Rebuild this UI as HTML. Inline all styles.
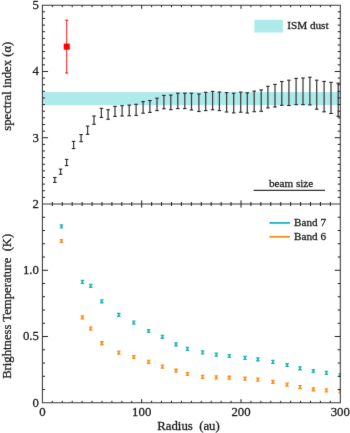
<!DOCTYPE html>
<html><head><meta charset="utf-8"><style>
html,body{margin:0;padding:0;background:#fff;width:350px;height:433px;overflow:hidden}
svg{display:block;will-change:transform;}
text{stroke:#1a1a1a;stroke-width:0.28px;font-family:"Liberation Serif",serif}
</style></head><body>
<svg width="350" height="433" viewBox="0 0 350 433">
<defs><filter id="bl" filterUnits="userSpaceOnUse" x="-5" y="-5" width="360" height="443" color-interpolation-filters="sRGB"><feConvolveMatrix order="3" kernelMatrix="0.00524 0.06192 0.00524 0.06192 0.73137 0.06192 0.00524 0.06192 0.00524" preserveAlpha="true" edgeMode="duplicate"/></filter></defs>
<g filter="url(#bl)">
<rect x="-10" y="-10" width="370" height="453" fill="#fff"/>
<rect x="42.4" y="92.1" width="297.90000000000003" height="13.1" fill="#aeeaea"/>
<rect x="254.4" y="19.7" width="28.5" height="12.8" fill="#aeeaea"/>
<line x1="54.8" y1="177.5" x2="54.8" y2="182.4" stroke="#3a3a3a" stroke-width="1.25"/>
<line x1="53.05" y1="177.5" x2="56.55" y2="177.5" stroke="#222" stroke-width="1.1"/>
<line x1="53.05" y1="182.4" x2="56.55" y2="182.4" stroke="#222" stroke-width="1.1"/>
<line x1="60.6" y1="169.1" x2="60.6" y2="174.3" stroke="#3a3a3a" stroke-width="1.25"/>
<line x1="58.85" y1="169.1" x2="62.35" y2="169.1" stroke="#222" stroke-width="1.1"/>
<line x1="58.85" y1="174.3" x2="62.35" y2="174.3" stroke="#222" stroke-width="1.1"/>
<line x1="66.6" y1="159.4" x2="66.6" y2="165.6" stroke="#3a3a3a" stroke-width="1.25"/>
<line x1="64.85" y1="159.4" x2="68.35" y2="159.4" stroke="#222" stroke-width="1.1"/>
<line x1="64.85" y1="165.6" x2="68.35" y2="165.6" stroke="#222" stroke-width="1.1"/>
<line x1="73.6" y1="141.4" x2="73.6" y2="148.6" stroke="#3a3a3a" stroke-width="1.25"/>
<line x1="71.85" y1="141.4" x2="75.35" y2="141.4" stroke="#222" stroke-width="1.1"/>
<line x1="71.85" y1="148.6" x2="75.35" y2="148.6" stroke="#222" stroke-width="1.1"/>
<line x1="81.1" y1="134.6" x2="81.1" y2="141.7" stroke="#3a3a3a" stroke-width="1.25"/>
<line x1="79.35" y1="134.6" x2="82.85" y2="134.6" stroke="#222" stroke-width="1.1"/>
<line x1="79.35" y1="141.7" x2="82.85" y2="141.7" stroke="#222" stroke-width="1.1"/>
<line x1="87.6" y1="126.1" x2="87.6" y2="134.3" stroke="#3a3a3a" stroke-width="1.25"/>
<line x1="85.85" y1="126.1" x2="89.35" y2="126.1" stroke="#222" stroke-width="1.1"/>
<line x1="85.85" y1="134.3" x2="89.35" y2="134.3" stroke="#222" stroke-width="1.1"/>
<line x1="94" y1="116" x2="94" y2="124.3" stroke="#3a3a3a" stroke-width="1.25"/>
<line x1="92.25" y1="116" x2="95.75" y2="116" stroke="#222" stroke-width="1.1"/>
<line x1="92.25" y1="124.3" x2="95.75" y2="124.3" stroke="#222" stroke-width="1.1"/>
<line x1="101.4" y1="108.3" x2="101.4" y2="117.4" stroke="#3a3a3a" stroke-width="1.25"/>
<line x1="99.65" y1="108.3" x2="103.15" y2="108.3" stroke="#222" stroke-width="1.1"/>
<line x1="99.65" y1="117.4" x2="103.15" y2="117.4" stroke="#222" stroke-width="1.1"/>
<line x1="108.1" y1="109.7" x2="108.1" y2="119.3" stroke="#3a3a3a" stroke-width="1.25"/>
<line x1="106.35" y1="109.7" x2="109.85" y2="109.7" stroke="#222" stroke-width="1.1"/>
<line x1="106.35" y1="119.3" x2="109.85" y2="119.3" stroke="#222" stroke-width="1.1"/>
<line x1="115" y1="106.4" x2="115" y2="116.4" stroke="#3a3a3a" stroke-width="1.25"/>
<line x1="113.25" y1="106.4" x2="116.75" y2="106.4" stroke="#222" stroke-width="1.1"/>
<line x1="113.25" y1="116.4" x2="116.75" y2="116.4" stroke="#222" stroke-width="1.1"/>
<line x1="122.1" y1="105.7" x2="122.1" y2="116" stroke="#3a3a3a" stroke-width="1.25"/>
<line x1="120.35" y1="105.7" x2="123.85" y2="105.7" stroke="#222" stroke-width="1.1"/>
<line x1="120.35" y1="116" x2="123.85" y2="116" stroke="#222" stroke-width="1.1"/>
<line x1="129.2" y1="105.1" x2="129.2" y2="115.8" stroke="#3a3a3a" stroke-width="1.25"/>
<line x1="127.44999999999999" y1="105.1" x2="130.95" y2="105.1" stroke="#222" stroke-width="1.1"/>
<line x1="127.44999999999999" y1="115.8" x2="130.95" y2="115.8" stroke="#222" stroke-width="1.1"/>
<line x1="136.1" y1="104.3" x2="136.1" y2="115.4" stroke="#3a3a3a" stroke-width="1.25"/>
<line x1="134.35" y1="104.3" x2="137.85" y2="104.3" stroke="#222" stroke-width="1.1"/>
<line x1="134.35" y1="115.4" x2="137.85" y2="115.4" stroke="#222" stroke-width="1.1"/>
<line x1="143.1" y1="101.6" x2="143.1" y2="113.2" stroke="#3a3a3a" stroke-width="1.25"/>
<line x1="141.35" y1="101.6" x2="144.85" y2="101.6" stroke="#222" stroke-width="1.1"/>
<line x1="141.35" y1="113.2" x2="144.85" y2="113.2" stroke="#222" stroke-width="1.1"/>
<line x1="149.9" y1="100.6" x2="149.9" y2="112.4" stroke="#3a3a3a" stroke-width="1.25"/>
<line x1="148.15" y1="100.6" x2="151.65" y2="100.6" stroke="#222" stroke-width="1.1"/>
<line x1="148.15" y1="112.4" x2="151.65" y2="112.4" stroke="#222" stroke-width="1.1"/>
<line x1="157" y1="98.2" x2="157" y2="110.6" stroke="#3a3a3a" stroke-width="1.25"/>
<line x1="155.25" y1="98.2" x2="158.75" y2="98.2" stroke="#222" stroke-width="1.1"/>
<line x1="155.25" y1="110.6" x2="158.75" y2="110.6" stroke="#222" stroke-width="1.1"/>
<line x1="163.9" y1="95.4" x2="163.9" y2="108.8" stroke="#3a3a3a" stroke-width="1.25"/>
<line x1="162.15" y1="95.4" x2="165.65" y2="95.4" stroke="#222" stroke-width="1.1"/>
<line x1="162.15" y1="108.8" x2="165.65" y2="108.8" stroke="#222" stroke-width="1.1"/>
<line x1="170.8" y1="95.1" x2="170.8" y2="109.7" stroke="#3a3a3a" stroke-width="1.25"/>
<line x1="169.05" y1="95.1" x2="172.55" y2="95.1" stroke="#222" stroke-width="1.1"/>
<line x1="169.05" y1="109.7" x2="172.55" y2="109.7" stroke="#222" stroke-width="1.1"/>
<line x1="177.8" y1="93.2" x2="177.8" y2="108.6" stroke="#3a3a3a" stroke-width="1.25"/>
<line x1="176.05" y1="93.2" x2="179.55" y2="93.2" stroke="#222" stroke-width="1.1"/>
<line x1="176.05" y1="108.6" x2="179.55" y2="108.6" stroke="#222" stroke-width="1.1"/>
<line x1="184.8" y1="93.2" x2="184.8" y2="108.6" stroke="#3a3a3a" stroke-width="1.25"/>
<line x1="183.05" y1="93.2" x2="186.55" y2="93.2" stroke="#222" stroke-width="1.1"/>
<line x1="183.05" y1="108.6" x2="186.55" y2="108.6" stroke="#222" stroke-width="1.1"/>
<line x1="191.5" y1="93.2" x2="191.5" y2="110" stroke="#3a3a3a" stroke-width="1.25"/>
<line x1="189.75" y1="93.2" x2="193.25" y2="93.2" stroke="#222" stroke-width="1.1"/>
<line x1="189.75" y1="110" x2="193.25" y2="110" stroke="#222" stroke-width="1.1"/>
<line x1="198.9" y1="94" x2="198.9" y2="111.5" stroke="#3a3a3a" stroke-width="1.25"/>
<line x1="197.15" y1="94" x2="200.65" y2="94" stroke="#222" stroke-width="1.1"/>
<line x1="197.15" y1="111.5" x2="200.65" y2="111.5" stroke="#222" stroke-width="1.1"/>
<line x1="205.7" y1="92.3" x2="205.7" y2="110.6" stroke="#3a3a3a" stroke-width="1.25"/>
<line x1="203.95" y1="92.3" x2="207.45" y2="92.3" stroke="#222" stroke-width="1.1"/>
<line x1="203.95" y1="110.6" x2="207.45" y2="110.6" stroke="#222" stroke-width="1.1"/>
<line x1="212.6" y1="91.4" x2="212.6" y2="109.8" stroke="#3a3a3a" stroke-width="1.25"/>
<line x1="210.85" y1="91.4" x2="214.35" y2="91.4" stroke="#222" stroke-width="1.1"/>
<line x1="210.85" y1="109.8" x2="214.35" y2="109.8" stroke="#222" stroke-width="1.1"/>
<line x1="219.4" y1="92" x2="219.4" y2="110.6" stroke="#3a3a3a" stroke-width="1.25"/>
<line x1="217.65" y1="92" x2="221.15" y2="92" stroke="#222" stroke-width="1.1"/>
<line x1="217.65" y1="110.6" x2="221.15" y2="110.6" stroke="#222" stroke-width="1.1"/>
<line x1="226.6" y1="92.6" x2="226.6" y2="112" stroke="#3a3a3a" stroke-width="1.25"/>
<line x1="224.85" y1="92.6" x2="228.35" y2="92.6" stroke="#222" stroke-width="1.1"/>
<line x1="224.85" y1="112" x2="228.35" y2="112" stroke="#222" stroke-width="1.1"/>
<line x1="233.7" y1="93.2" x2="233.7" y2="112.9" stroke="#3a3a3a" stroke-width="1.25"/>
<line x1="231.95" y1="93.2" x2="235.45" y2="93.2" stroke="#222" stroke-width="1.1"/>
<line x1="231.95" y1="112.9" x2="235.45" y2="112.9" stroke="#222" stroke-width="1.1"/>
<line x1="240.7" y1="92.1" x2="240.7" y2="112.2" stroke="#3a3a3a" stroke-width="1.25"/>
<line x1="238.95" y1="92.1" x2="242.45" y2="92.1" stroke="#222" stroke-width="1.1"/>
<line x1="238.95" y1="112.2" x2="242.45" y2="112.2" stroke="#222" stroke-width="1.1"/>
<line x1="247.3" y1="92.8" x2="247.3" y2="113" stroke="#3a3a3a" stroke-width="1.25"/>
<line x1="245.55" y1="92.8" x2="249.05" y2="92.8" stroke="#222" stroke-width="1.1"/>
<line x1="245.55" y1="113" x2="249.05" y2="113" stroke="#222" stroke-width="1.1"/>
<line x1="254.2" y1="91.1" x2="254.2" y2="111.7" stroke="#3a3a3a" stroke-width="1.25"/>
<line x1="252.45" y1="91.1" x2="255.95" y2="91.1" stroke="#222" stroke-width="1.1"/>
<line x1="252.45" y1="111.7" x2="255.95" y2="111.7" stroke="#222" stroke-width="1.1"/>
<line x1="261.2" y1="89.9" x2="261.2" y2="111.3" stroke="#3a3a3a" stroke-width="1.25"/>
<line x1="259.45" y1="89.9" x2="262.95" y2="89.9" stroke="#222" stroke-width="1.1"/>
<line x1="259.45" y1="111.3" x2="262.95" y2="111.3" stroke="#222" stroke-width="1.1"/>
<line x1="267.9" y1="86.3" x2="267.9" y2="107.9" stroke="#3a3a3a" stroke-width="1.25"/>
<line x1="266.15" y1="86.3" x2="269.65" y2="86.3" stroke="#222" stroke-width="1.1"/>
<line x1="266.15" y1="107.9" x2="269.65" y2="107.9" stroke="#222" stroke-width="1.1"/>
<line x1="275" y1="84.4" x2="275" y2="107" stroke="#3a3a3a" stroke-width="1.25"/>
<line x1="273.25" y1="84.4" x2="276.75" y2="84.4" stroke="#222" stroke-width="1.1"/>
<line x1="273.25" y1="107" x2="276.75" y2="107" stroke="#222" stroke-width="1.1"/>
<line x1="281.8" y1="81.5" x2="281.8" y2="105.3" stroke="#3a3a3a" stroke-width="1.25"/>
<line x1="280.05" y1="81.5" x2="283.55" y2="81.5" stroke="#222" stroke-width="1.1"/>
<line x1="280.05" y1="105.3" x2="283.55" y2="105.3" stroke="#222" stroke-width="1.1"/>
<line x1="288.9" y1="80.2" x2="288.9" y2="105.5" stroke="#3a3a3a" stroke-width="1.25"/>
<line x1="287.15" y1="80.2" x2="290.65" y2="80.2" stroke="#222" stroke-width="1.1"/>
<line x1="287.15" y1="105.5" x2="290.65" y2="105.5" stroke="#222" stroke-width="1.1"/>
<line x1="296.1" y1="78.4" x2="296.1" y2="104.6" stroke="#3a3a3a" stroke-width="1.25"/>
<line x1="294.35" y1="78.4" x2="297.85" y2="78.4" stroke="#222" stroke-width="1.1"/>
<line x1="294.35" y1="104.6" x2="297.85" y2="104.6" stroke="#222" stroke-width="1.1"/>
<line x1="303" y1="78" x2="303" y2="104.6" stroke="#3a3a3a" stroke-width="1.25"/>
<line x1="301.25" y1="78" x2="304.75" y2="78" stroke="#222" stroke-width="1.1"/>
<line x1="301.25" y1="104.6" x2="304.75" y2="104.6" stroke="#222" stroke-width="1.1"/>
<line x1="309.9" y1="77.2" x2="309.9" y2="104.9" stroke="#3a3a3a" stroke-width="1.25"/>
<line x1="308.15" y1="77.2" x2="311.65" y2="77.2" stroke="#222" stroke-width="1.1"/>
<line x1="308.15" y1="104.9" x2="311.65" y2="104.9" stroke="#222" stroke-width="1.1"/>
<line x1="316.7" y1="80.2" x2="316.7" y2="109.2" stroke="#3a3a3a" stroke-width="1.25"/>
<line x1="314.95" y1="80.2" x2="318.45" y2="80.2" stroke="#222" stroke-width="1.1"/>
<line x1="314.95" y1="109.2" x2="318.45" y2="109.2" stroke="#222" stroke-width="1.1"/>
<line x1="324.1" y1="81.4" x2="324.1" y2="111.8" stroke="#3a3a3a" stroke-width="1.25"/>
<line x1="322.35" y1="81.4" x2="325.85" y2="81.4" stroke="#222" stroke-width="1.1"/>
<line x1="322.35" y1="111.8" x2="325.85" y2="111.8" stroke="#222" stroke-width="1.1"/>
<line x1="331" y1="82.3" x2="331" y2="113.5" stroke="#3a3a3a" stroke-width="1.25"/>
<line x1="329.25" y1="82.3" x2="332.75" y2="82.3" stroke="#222" stroke-width="1.1"/>
<line x1="329.25" y1="113.5" x2="332.75" y2="113.5" stroke="#222" stroke-width="1.1"/>
<line x1="338.2" y1="83.2" x2="338.2" y2="116.3" stroke="#3a3a3a" stroke-width="1.25"/>
<line x1="336.45" y1="83.2" x2="339.95" y2="83.2" stroke="#222" stroke-width="1.1"/>
<line x1="336.45" y1="116.3" x2="339.95" y2="116.3" stroke="#222" stroke-width="1.1"/>
<line x1="66.7" y1="20.2" x2="66.7" y2="73" stroke="#ff1a1a" stroke-width="1.0"/>
<line x1="65.1" y1="20.2" x2="68.3" y2="20.2" stroke="#ff1a1a" stroke-width="1.1"/>
<line x1="65.1" y1="73" x2="68.3" y2="73" stroke="#ff1a1a" stroke-width="1.1"/>
<rect x="63.7" y="43.6" width="6.1" height="6.1" fill="#ff0000"/>
<line x1="253.6" y1="190.4" x2="325" y2="190.4" stroke="#333" stroke-width="1.2"/>
<text x="291.1" y="187.0" text-anchor="middle" font-size="11.2" fill="#1a1a1a">beam size</text>
<text x="287.2" y="29.4" font-size="11.2" fill="#1a1a1a">ISM dust</text>
<defs><clipPath id="ca"><rect x="42.4" y="204" width="297.9" height="199"/></clipPath></defs><g clip-path="url(#ca)">
<line x1="61.4" y1="224.95000000000002" x2="61.4" y2="227.85" stroke="#1db5b3" stroke-width="1.9"/>
<line x1="59.65" y1="224.95000000000002" x2="63.15" y2="224.95000000000002" stroke="#1db5b3" stroke-width="1.3"/>
<line x1="59.65" y1="227.85" x2="63.15" y2="227.85" stroke="#1db5b3" stroke-width="1.3"/>
<line x1="61.4" y1="239.55" x2="61.4" y2="242.45" stroke="#ff8a16" stroke-width="1.9"/>
<line x1="59.65" y1="239.55" x2="63.15" y2="239.55" stroke="#ff8a16" stroke-width="1.3"/>
<line x1="59.65" y1="242.45" x2="63.15" y2="242.45" stroke="#ff8a16" stroke-width="1.3"/>
<line x1="82.4" y1="280.45" x2="82.4" y2="283.34999999999997" stroke="#1db5b3" stroke-width="1.9"/>
<line x1="80.65" y1="280.45" x2="84.15" y2="280.45" stroke="#1db5b3" stroke-width="1.3"/>
<line x1="80.65" y1="283.34999999999997" x2="84.15" y2="283.34999999999997" stroke="#1db5b3" stroke-width="1.3"/>
<line x1="82.4" y1="315.85" x2="82.4" y2="318.75" stroke="#ff8a16" stroke-width="1.9"/>
<line x1="80.65" y1="315.85" x2="84.15" y2="315.85" stroke="#ff8a16" stroke-width="1.3"/>
<line x1="80.65" y1="318.75" x2="84.15" y2="318.75" stroke="#ff8a16" stroke-width="1.3"/>
<line x1="90.7" y1="284.35" x2="90.7" y2="287.25" stroke="#1db5b3" stroke-width="1.9"/>
<line x1="88.95" y1="284.35" x2="92.45" y2="284.35" stroke="#1db5b3" stroke-width="1.3"/>
<line x1="88.95" y1="287.25" x2="92.45" y2="287.25" stroke="#1db5b3" stroke-width="1.3"/>
<line x1="90.7" y1="327.15000000000003" x2="90.7" y2="330.05" stroke="#ff8a16" stroke-width="1.9"/>
<line x1="88.95" y1="327.15000000000003" x2="92.45" y2="327.15000000000003" stroke="#ff8a16" stroke-width="1.3"/>
<line x1="88.95" y1="330.05" x2="92.45" y2="330.05" stroke="#ff8a16" stroke-width="1.3"/>
<line x1="101.8" y1="299.85" x2="101.8" y2="302.75" stroke="#1db5b3" stroke-width="1.9"/>
<line x1="100.05" y1="299.85" x2="103.55" y2="299.85" stroke="#1db5b3" stroke-width="1.3"/>
<line x1="100.05" y1="302.75" x2="103.55" y2="302.75" stroke="#1db5b3" stroke-width="1.3"/>
<line x1="101.8" y1="341.75" x2="101.8" y2="344.65" stroke="#ff8a16" stroke-width="1.9"/>
<line x1="100.05" y1="341.75" x2="103.55" y2="341.75" stroke="#ff8a16" stroke-width="1.3"/>
<line x1="100.05" y1="344.65" x2="103.55" y2="344.65" stroke="#ff8a16" stroke-width="1.3"/>
<line x1="118.8" y1="313.45" x2="118.8" y2="316.34999999999997" stroke="#1db5b3" stroke-width="1.9"/>
<line x1="117.05" y1="313.45" x2="120.55" y2="313.45" stroke="#1db5b3" stroke-width="1.3"/>
<line x1="117.05" y1="316.34999999999997" x2="120.55" y2="316.34999999999997" stroke="#1db5b3" stroke-width="1.3"/>
<line x1="118.8" y1="351.15000000000003" x2="118.8" y2="354.05" stroke="#ff8a16" stroke-width="1.9"/>
<line x1="117.05" y1="351.15000000000003" x2="120.55" y2="351.15000000000003" stroke="#ff8a16" stroke-width="1.3"/>
<line x1="117.05" y1="354.05" x2="120.55" y2="354.05" stroke="#ff8a16" stroke-width="1.3"/>
<line x1="133.8" y1="321.15000000000003" x2="133.8" y2="324.05" stroke="#1db5b3" stroke-width="1.9"/>
<line x1="132.05" y1="321.15000000000003" x2="135.55" y2="321.15000000000003" stroke="#1db5b3" stroke-width="1.3"/>
<line x1="132.05" y1="324.05" x2="135.55" y2="324.05" stroke="#1db5b3" stroke-width="1.3"/>
<line x1="133.8" y1="355.55" x2="133.8" y2="358.45" stroke="#ff8a16" stroke-width="1.9"/>
<line x1="132.05" y1="355.55" x2="135.55" y2="355.55" stroke="#ff8a16" stroke-width="1.3"/>
<line x1="132.05" y1="358.45" x2="135.55" y2="358.45" stroke="#ff8a16" stroke-width="1.3"/>
<line x1="148.6" y1="329.55" x2="148.6" y2="332.45" stroke="#1db5b3" stroke-width="1.9"/>
<line x1="146.85" y1="329.55" x2="150.35" y2="329.55" stroke="#1db5b3" stroke-width="1.3"/>
<line x1="146.85" y1="332.45" x2="150.35" y2="332.45" stroke="#1db5b3" stroke-width="1.3"/>
<line x1="148.6" y1="360.35" x2="148.6" y2="363.25" stroke="#ff8a16" stroke-width="1.9"/>
<line x1="146.85" y1="360.35" x2="150.35" y2="360.35" stroke="#ff8a16" stroke-width="1.3"/>
<line x1="146.85" y1="363.25" x2="150.35" y2="363.25" stroke="#ff8a16" stroke-width="1.3"/>
<line x1="162.4" y1="335.35" x2="162.4" y2="338.25" stroke="#1db5b3" stroke-width="1.9"/>
<line x1="160.65" y1="335.35" x2="164.15" y2="335.35" stroke="#1db5b3" stroke-width="1.3"/>
<line x1="160.65" y1="338.25" x2="164.15" y2="338.25" stroke="#1db5b3" stroke-width="1.3"/>
<line x1="162.4" y1="365.15000000000003" x2="162.4" y2="368.05" stroke="#ff8a16" stroke-width="1.9"/>
<line x1="160.65" y1="365.15000000000003" x2="164.15" y2="365.15000000000003" stroke="#ff8a16" stroke-width="1.3"/>
<line x1="160.65" y1="368.05" x2="164.15" y2="368.05" stroke="#ff8a16" stroke-width="1.3"/>
<line x1="176" y1="342.85" x2="176" y2="345.75" stroke="#1db5b3" stroke-width="1.9"/>
<line x1="174.25" y1="342.85" x2="177.75" y2="342.85" stroke="#1db5b3" stroke-width="1.3"/>
<line x1="174.25" y1="345.75" x2="177.75" y2="345.75" stroke="#1db5b3" stroke-width="1.3"/>
<line x1="176" y1="369.25" x2="176" y2="372.15" stroke="#ff8a16" stroke-width="1.9"/>
<line x1="174.25" y1="369.25" x2="177.75" y2="369.25" stroke="#ff8a16" stroke-width="1.3"/>
<line x1="174.25" y1="372.15" x2="177.75" y2="372.15" stroke="#ff8a16" stroke-width="1.3"/>
<line x1="187.4" y1="347.45" x2="187.4" y2="350.34999999999997" stroke="#1db5b3" stroke-width="1.9"/>
<line x1="185.65" y1="347.45" x2="189.15" y2="347.45" stroke="#1db5b3" stroke-width="1.3"/>
<line x1="185.65" y1="350.34999999999997" x2="189.15" y2="350.34999999999997" stroke="#1db5b3" stroke-width="1.3"/>
<line x1="187.4" y1="372.55" x2="187.4" y2="375.45" stroke="#ff8a16" stroke-width="1.9"/>
<line x1="185.65" y1="372.55" x2="189.15" y2="372.55" stroke="#ff8a16" stroke-width="1.3"/>
<line x1="185.65" y1="375.45" x2="189.15" y2="375.45" stroke="#ff8a16" stroke-width="1.3"/>
<line x1="202.6" y1="350.95" x2="202.6" y2="353.84999999999997" stroke="#1db5b3" stroke-width="1.9"/>
<line x1="200.85" y1="350.95" x2="204.35" y2="350.95" stroke="#1db5b3" stroke-width="1.3"/>
<line x1="200.85" y1="353.84999999999997" x2="204.35" y2="353.84999999999997" stroke="#1db5b3" stroke-width="1.3"/>
<line x1="202.6" y1="375.45" x2="202.6" y2="378.34999999999997" stroke="#ff8a16" stroke-width="1.9"/>
<line x1="200.85" y1="375.45" x2="204.35" y2="375.45" stroke="#ff8a16" stroke-width="1.3"/>
<line x1="200.85" y1="378.34999999999997" x2="204.35" y2="378.34999999999997" stroke="#ff8a16" stroke-width="1.3"/>
<line x1="216.3" y1="353.15000000000003" x2="216.3" y2="356.05" stroke="#1db5b3" stroke-width="1.9"/>
<line x1="214.55" y1="353.15000000000003" x2="218.05" y2="353.15000000000003" stroke="#1db5b3" stroke-width="1.3"/>
<line x1="214.55" y1="356.05" x2="218.05" y2="356.05" stroke="#1db5b3" stroke-width="1.3"/>
<line x1="216.3" y1="375.95" x2="216.3" y2="378.84999999999997" stroke="#ff8a16" stroke-width="1.9"/>
<line x1="214.55" y1="375.95" x2="218.05" y2="375.95" stroke="#ff8a16" stroke-width="1.3"/>
<line x1="214.55" y1="378.84999999999997" x2="218.05" y2="378.84999999999997" stroke="#ff8a16" stroke-width="1.3"/>
<line x1="229.3" y1="354.55" x2="229.3" y2="357.45" stroke="#1db5b3" stroke-width="1.9"/>
<line x1="227.55" y1="354.55" x2="231.05" y2="354.55" stroke="#1db5b3" stroke-width="1.3"/>
<line x1="227.55" y1="357.45" x2="231.05" y2="357.45" stroke="#1db5b3" stroke-width="1.3"/>
<line x1="229.3" y1="376.25" x2="229.3" y2="379.15" stroke="#ff8a16" stroke-width="1.9"/>
<line x1="227.55" y1="376.25" x2="231.05" y2="376.25" stroke="#ff8a16" stroke-width="1.3"/>
<line x1="227.55" y1="379.15" x2="231.05" y2="379.15" stroke="#ff8a16" stroke-width="1.3"/>
<line x1="245" y1="356.45" x2="245" y2="359.34999999999997" stroke="#1db5b3" stroke-width="1.9"/>
<line x1="243.25" y1="356.45" x2="246.75" y2="356.45" stroke="#1db5b3" stroke-width="1.3"/>
<line x1="243.25" y1="359.34999999999997" x2="246.75" y2="359.34999999999997" stroke="#1db5b3" stroke-width="1.3"/>
<line x1="245" y1="377.15000000000003" x2="245" y2="380.05" stroke="#ff8a16" stroke-width="1.9"/>
<line x1="243.25" y1="377.15000000000003" x2="246.75" y2="377.15000000000003" stroke="#ff8a16" stroke-width="1.3"/>
<line x1="243.25" y1="380.05" x2="246.75" y2="380.05" stroke="#ff8a16" stroke-width="1.3"/>
<line x1="257.9" y1="357.85" x2="257.9" y2="360.75" stroke="#1db5b3" stroke-width="1.9"/>
<line x1="256.15" y1="357.85" x2="259.65" y2="357.85" stroke="#1db5b3" stroke-width="1.3"/>
<line x1="256.15" y1="360.75" x2="259.65" y2="360.75" stroke="#1db5b3" stroke-width="1.3"/>
<line x1="257.9" y1="378.15000000000003" x2="257.9" y2="381.05" stroke="#ff8a16" stroke-width="1.9"/>
<line x1="256.15" y1="378.15000000000003" x2="259.65" y2="378.15000000000003" stroke="#ff8a16" stroke-width="1.3"/>
<line x1="256.15" y1="381.05" x2="259.65" y2="381.05" stroke="#ff8a16" stroke-width="1.3"/>
<line x1="272.9" y1="360.45" x2="272.9" y2="363.34999999999997" stroke="#1db5b3" stroke-width="1.9"/>
<line x1="271.15" y1="360.45" x2="274.65" y2="360.45" stroke="#1db5b3" stroke-width="1.3"/>
<line x1="271.15" y1="363.34999999999997" x2="274.65" y2="363.34999999999997" stroke="#1db5b3" stroke-width="1.3"/>
<line x1="272.9" y1="380.45" x2="272.9" y2="383.34999999999997" stroke="#ff8a16" stroke-width="1.9"/>
<line x1="271.15" y1="380.45" x2="274.65" y2="380.45" stroke="#ff8a16" stroke-width="1.3"/>
<line x1="271.15" y1="383.34999999999997" x2="274.65" y2="383.34999999999997" stroke="#ff8a16" stroke-width="1.3"/>
<line x1="287.1" y1="363.55" x2="287.1" y2="366.45" stroke="#1db5b3" stroke-width="1.9"/>
<line x1="285.35" y1="363.55" x2="288.85" y2="363.55" stroke="#1db5b3" stroke-width="1.3"/>
<line x1="285.35" y1="366.45" x2="288.85" y2="366.45" stroke="#1db5b3" stroke-width="1.3"/>
<line x1="287.1" y1="383.15000000000003" x2="287.1" y2="386.05" stroke="#ff8a16" stroke-width="1.9"/>
<line x1="285.35" y1="383.15000000000003" x2="288.85" y2="383.15000000000003" stroke="#ff8a16" stroke-width="1.3"/>
<line x1="285.35" y1="386.05" x2="288.85" y2="386.05" stroke="#ff8a16" stroke-width="1.3"/>
<line x1="300" y1="366.85" x2="300" y2="369.75" stroke="#1db5b3" stroke-width="1.9"/>
<line x1="298.25" y1="366.85" x2="301.75" y2="366.85" stroke="#1db5b3" stroke-width="1.3"/>
<line x1="298.25" y1="369.75" x2="301.75" y2="369.75" stroke="#1db5b3" stroke-width="1.3"/>
<line x1="300" y1="385.65000000000003" x2="300" y2="388.55" stroke="#ff8a16" stroke-width="1.9"/>
<line x1="298.25" y1="385.65000000000003" x2="301.75" y2="385.65000000000003" stroke="#ff8a16" stroke-width="1.3"/>
<line x1="298.25" y1="388.55" x2="301.75" y2="388.55" stroke="#ff8a16" stroke-width="1.3"/>
<line x1="313.3" y1="369.55" x2="313.3" y2="372.45" stroke="#1db5b3" stroke-width="1.9"/>
<line x1="311.55" y1="369.55" x2="315.05" y2="369.55" stroke="#1db5b3" stroke-width="1.3"/>
<line x1="311.55" y1="372.45" x2="315.05" y2="372.45" stroke="#1db5b3" stroke-width="1.3"/>
<line x1="313.3" y1="387.85" x2="313.3" y2="390.75" stroke="#ff8a16" stroke-width="1.9"/>
<line x1="311.55" y1="387.85" x2="315.05" y2="387.85" stroke="#ff8a16" stroke-width="1.3"/>
<line x1="311.55" y1="390.75" x2="315.05" y2="390.75" stroke="#ff8a16" stroke-width="1.3"/>
<line x1="326.4" y1="371.45" x2="326.4" y2="374.34999999999997" stroke="#1db5b3" stroke-width="1.9"/>
<line x1="324.65" y1="371.45" x2="328.15" y2="371.45" stroke="#1db5b3" stroke-width="1.3"/>
<line x1="324.65" y1="374.34999999999997" x2="328.15" y2="374.34999999999997" stroke="#1db5b3" stroke-width="1.3"/>
<line x1="326.4" y1="388.95" x2="326.4" y2="391.84999999999997" stroke="#ff8a16" stroke-width="1.9"/>
<line x1="324.65" y1="388.95" x2="328.15" y2="388.95" stroke="#ff8a16" stroke-width="1.3"/>
<line x1="324.65" y1="391.84999999999997" x2="328.15" y2="391.84999999999997" stroke="#ff8a16" stroke-width="1.3"/>
<line x1="340.3" y1="373.55" x2="340.3" y2="376.45" stroke="#1db5b3" stroke-width="1.9"/>
<line x1="338.55" y1="373.55" x2="342.05" y2="373.55" stroke="#1db5b3" stroke-width="1.3"/>
<line x1="338.55" y1="376.45" x2="342.05" y2="376.45" stroke="#1db5b3" stroke-width="1.3"/>
<line x1="340.3" y1="389.95" x2="340.3" y2="392.84999999999997" stroke="#ff8a16" stroke-width="1.9"/>
<line x1="338.55" y1="389.95" x2="342.05" y2="389.95" stroke="#ff8a16" stroke-width="1.3"/>
<line x1="338.55" y1="392.84999999999997" x2="342.05" y2="392.84999999999997" stroke="#ff8a16" stroke-width="1.3"/>
</g>
<line x1="269.5" y1="222.9" x2="290" y2="222.9" stroke="#1db5b3" stroke-width="1.8"/>
<line x1="269.5" y1="236.8" x2="290" y2="236.8" stroke="#ff8a16" stroke-width="1.8"/>
<text x="294.1" y="225.8" font-size="11.2" fill="#1a1a1a">Band 7</text>
<text x="294.1" y="239.7" font-size="11.2" fill="#1a1a1a">Band 6</text>
<path d="M42.4 5.2H340.3V402.8H42.4Z M42.4 204.0H340.3" stroke="#3a3a3a" stroke-width="1.05" fill="none"/>
<path d="M52.33 5.20v2.0 M52.33 204.00v-2.0 M52.33 204.00v2.0 M52.33 402.80v-2.0 M62.26 5.20v2.0 M62.26 204.00v-2.0 M62.26 204.00v2.0 M62.26 402.80v-2.0 M72.19 5.20v2.0 M72.19 204.00v-2.0 M72.19 204.00v2.0 M72.19 402.80v-2.0 M82.12 5.20v2.0 M82.12 204.00v-2.0 M82.12 204.00v2.0 M82.12 402.80v-2.0 M92.05 5.20v2.0 M92.05 204.00v-2.0 M92.05 204.00v2.0 M92.05 402.80v-2.0 M101.98 5.20v2.0 M101.98 204.00v-2.0 M101.98 204.00v2.0 M101.98 402.80v-2.0 M111.91 5.20v2.0 M111.91 204.00v-2.0 M111.91 204.00v2.0 M111.91 402.80v-2.0 M121.84 5.20v2.0 M121.84 204.00v-2.0 M121.84 204.00v2.0 M121.84 402.80v-2.0 M131.77 5.20v2.0 M131.77 204.00v-2.0 M131.77 204.00v2.0 M131.77 402.80v-2.0 M141.70 5.20v3.6 M141.70 204.00v-3.6 M141.70 204.00v3.6 M141.70 402.80v-3.6 M151.63 5.20v2.0 M151.63 204.00v-2.0 M151.63 204.00v2.0 M151.63 402.80v-2.0 M161.56 5.20v2.0 M161.56 204.00v-2.0 M161.56 204.00v2.0 M161.56 402.80v-2.0 M171.49 5.20v2.0 M171.49 204.00v-2.0 M171.49 204.00v2.0 M171.49 402.80v-2.0 M181.42 5.20v2.0 M181.42 204.00v-2.0 M181.42 204.00v2.0 M181.42 402.80v-2.0 M191.35 5.20v2.0 M191.35 204.00v-2.0 M191.35 204.00v2.0 M191.35 402.80v-2.0 M201.28 5.20v2.0 M201.28 204.00v-2.0 M201.28 204.00v2.0 M201.28 402.80v-2.0 M211.21 5.20v2.0 M211.21 204.00v-2.0 M211.21 204.00v2.0 M211.21 402.80v-2.0 M221.14 5.20v2.0 M221.14 204.00v-2.0 M221.14 204.00v2.0 M221.14 402.80v-2.0 M231.07 5.20v2.0 M231.07 204.00v-2.0 M231.07 204.00v2.0 M231.07 402.80v-2.0 M241.00 5.20v3.6 M241.00 204.00v-3.6 M241.00 204.00v3.6 M241.00 402.80v-3.6 M250.93 5.20v2.0 M250.93 204.00v-2.0 M250.93 204.00v2.0 M250.93 402.80v-2.0 M260.86 5.20v2.0 M260.86 204.00v-2.0 M260.86 204.00v2.0 M260.86 402.80v-2.0 M270.79 5.20v2.0 M270.79 204.00v-2.0 M270.79 204.00v2.0 M270.79 402.80v-2.0 M280.72 5.20v2.0 M280.72 204.00v-2.0 M280.72 204.00v2.0 M280.72 402.80v-2.0 M290.65 5.20v2.0 M290.65 204.00v-2.0 M290.65 204.00v2.0 M290.65 402.80v-2.0 M300.58 5.20v2.0 M300.58 204.00v-2.0 M300.58 204.00v2.0 M300.58 402.80v-2.0 M310.51 5.20v2.0 M310.51 204.00v-2.0 M310.51 204.00v2.0 M310.51 402.80v-2.0 M320.44 5.20v2.0 M320.44 204.00v-2.0 M320.44 204.00v2.0 M320.44 402.80v-2.0 M330.37 5.20v2.0 M330.37 204.00v-2.0 M330.37 204.00v2.0 M330.37 402.80v-2.0 M42.40 11.83h2.6 M340.30 11.83h-2.6 M42.40 18.45h2.6 M340.30 18.45h-2.6 M42.40 25.08h2.6 M340.30 25.08h-2.6 M42.40 31.71h2.6 M340.30 31.71h-2.6 M42.40 38.33h2.6 M340.30 38.33h-2.6 M42.40 44.96h2.6 M340.30 44.96h-2.6 M42.40 51.59h2.6 M340.30 51.59h-2.6 M42.40 58.21h2.6 M340.30 58.21h-2.6 M42.40 64.84h2.6 M340.30 64.84h-2.6 M42.40 71.47h5.6 M340.30 71.47h-5.6 M42.40 78.09h2.6 M340.30 78.09h-2.6 M42.40 84.72h2.6 M340.30 84.72h-2.6 M42.40 91.35h2.6 M340.30 91.35h-2.6 M42.40 97.97h2.6 M340.30 97.97h-2.6 M42.40 104.60h2.6 M340.30 104.60h-2.6 M42.40 111.23h2.6 M340.30 111.23h-2.6 M42.40 117.85h2.6 M340.30 117.85h-2.6 M42.40 124.48h2.6 M340.30 124.48h-2.6 M42.40 131.11h2.6 M340.30 131.11h-2.6 M42.40 137.73h5.6 M340.30 137.73h-5.6 M42.40 144.36h2.6 M340.30 144.36h-2.6 M42.40 150.99h2.6 M340.30 150.99h-2.6 M42.40 157.61h2.6 M340.30 157.61h-2.6 M42.40 164.24h2.6 M340.30 164.24h-2.6 M42.40 170.87h2.6 M340.30 170.87h-2.6 M42.40 177.49h2.6 M340.30 177.49h-2.6 M42.40 184.12h2.6 M340.30 184.12h-2.6 M42.40 190.75h2.6 M340.30 190.75h-2.6 M42.40 197.37h2.6 M340.30 197.37h-2.6 M42.40 217.25h2.6 M340.30 217.25h-2.6 M42.40 230.51h2.6 M340.30 230.51h-2.6 M42.40 243.76h2.6 M340.30 243.76h-2.6 M42.40 257.01h2.6 M340.30 257.01h-2.6 M42.40 270.27h5.6 M340.30 270.27h-5.6 M42.40 283.52h2.6 M340.30 283.52h-2.6 M42.40 296.77h2.6 M340.30 296.77h-2.6 M42.40 310.03h2.6 M340.30 310.03h-2.6 M42.40 323.28h2.6 M340.30 323.28h-2.6 M42.40 336.53h5.6 M340.30 336.53h-5.6 M42.40 349.79h2.6 M340.30 349.79h-2.6 M42.40 363.04h2.6 M340.30 363.04h-2.6 M42.40 376.29h2.6 M340.30 376.29h-2.6 M42.40 389.55h2.6 M340.30 389.55h-2.6" stroke="#202020" stroke-width="1.0" fill="none"/>
<text transform="translate(38.90 9.20) scale(1 1.05)" text-anchor="end" font-size="12.8" fill="#1a1a1a">5</text>
<text transform="translate(38.90 75.10) scale(1 1.05)" text-anchor="end" font-size="12.8" fill="#1a1a1a">4</text>
<text transform="translate(38.90 141.60) scale(1 1.05)" text-anchor="end" font-size="12.8" fill="#1a1a1a">3</text>
<text transform="translate(38.90 208.00) scale(1 1.05)" text-anchor="end" font-size="12.8" fill="#1a1a1a">2</text>
<text transform="translate(38.90 273.70) scale(1 1.05)" text-anchor="end" font-size="12.8" fill="#1a1a1a">1.0</text>
<text transform="translate(38.90 340.30) scale(1 1.05)" text-anchor="end" font-size="12.8" fill="#1a1a1a">0.5</text>
<text transform="translate(38.90 407.00) scale(1 1.05)" text-anchor="end" font-size="12.8" fill="#1a1a1a">0</text>
<text transform="translate(42.40 416.20) scale(1 1.05)" text-anchor="middle" font-size="12.8" fill="#1a1a1a">0</text>
<text transform="translate(141.70 416.20) scale(1 1.05)" text-anchor="middle" font-size="12.8" fill="#1a1a1a">100</text>
<text transform="translate(241.00 416.20) scale(1 1.05)" text-anchor="middle" font-size="12.8" fill="#1a1a1a">200</text>
<text transform="translate(340.30 416.20) scale(1 1.05)" text-anchor="middle" font-size="12.8" fill="#1a1a1a">300</text>
<text x="188.5" y="430" text-anchor="middle" font-size="12.8" fill="#1a1a1a" xml:space="preserve">Radius  (au)</text>
<text transform="translate(10.5 86.2) rotate(-90)" text-anchor="middle" font-size="12.7" fill="#1a1a1a">spectral index (α)</text>
<text transform="translate(10.5 306.3) rotate(-90)" text-anchor="middle" font-size="12.7" fill="#1a1a1a" xml:space="preserve">Brightness Temperature  (K)</text>
</g>
</svg>
</body></html>
